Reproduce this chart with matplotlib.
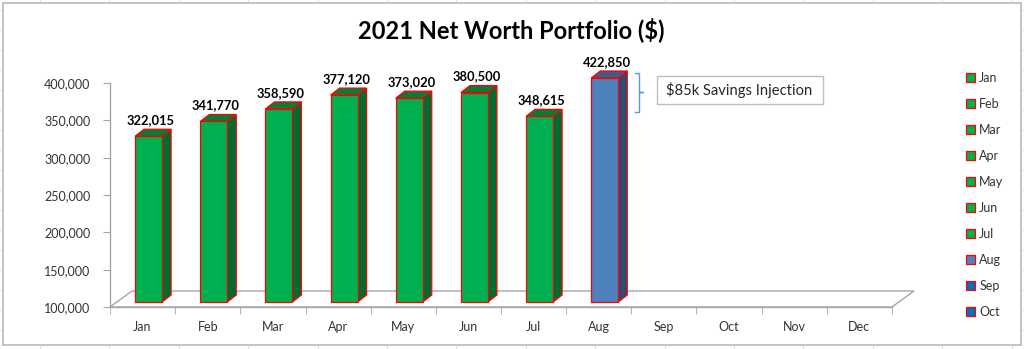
import matplotlib.pyplot as plt
import numpy as np
from matplotlib.patches import Patch, Polygon, Rectangle

MONTHS = ["Jan", "Feb", "Mar", "Apr", "May", "Jun", "Jul", "Aug", "Sep", "Oct", "Nov", "Dec"]
NET_WORTH = [322015, 341770, 358590, 377120, 373020, 380500, 348615, 422850]
LEGEND_MONTHS = MONTHS[:10]
Y_TICKS = [100000, 150000, 200000, 250000, 300000, 350000, 400000]
NOTE = "$85k Savings Injection"

GREEN = ("#00B050", "#0A7A38", "#006B30")   # front, top, side
BLUE_AUG = ("#4F81BD", "#3A5E8C", "#2E4C73")
BLUE = ("#0070C0", "#005A9A", "#004C82")
EDGE = "#FF0000"
AXIS = "#A6A6A6"
TEXT = "#333333"


def month_colors(i: int):
    if i < 7:
        return GREEN
    if i == 7:
        return BLUE_AUG
    return BLUE


W, H = 1024, 349
X0, X1, YB, YT = 110, 892, 307, 83          # plot box in pixels
YMIN, YMAX = 100000, 400000

plt.rcParams["font.family"] = ["Lato", "DejaVu Sans"]
fig = plt.figure(figsize=(W / 100, H / 100), dpi=100)

# sheet background + chart frame (pixel coordinates)
bg = fig.add_axes([0, 0, 1, 1])
bg.set_xlim(0, W)
bg.set_ylim(H, 0)
bg.axis("off")
for x in np.arange(40, W, 69.4):
    bg.axvline(x, color="#E4E4E4", linewidth=0.8, zorder=0)
for y in np.arange(10, H, 20):
    bg.axhline(y, color="#E4E4E4", linewidth=0.8, zorder=0)
bg.add_patch(Rectangle((3, 3), 1018, 342, facecolor="white", edgecolor="#BFBFBF", linewidth=1.3, zorder=1))

# annotation
bg.plot([635, 639, 639, 643, 639, 639, 635], [73, 73, 92, 92, 92, 112, 112],
        color="#5B9BD5", linewidth=1.0, zorder=2)
bg.add_patch(Rectangle((657, 76), 166, 28, facecolor="white", edgecolor="#BFBFBF", linewidth=1.0, zorder=2))
bg.text(739, 90.5, NOTE, ha="center", va="center", fontsize=10.6, color="#262626", zorder=3)

fig.text(511 / W, 1 - 30 / H, "2021 Net Worth Portfolio ($)", ha="center", va="center",
         fontsize=17, fontweight="bold", color="black")

ax = fig.add_axes([X0 / W, (H - YB) / H, (X1 - X0) / W, (YB - YT) / H])
ax.set_xlim(0, len(MONTHS))
ax.set_ylim(YMIN, YMAX)
ax.patch.set_alpha(0)
for s in ("top", "right"):
    ax.spines[s].set_visible(False)
for s in ("left", "bottom"):
    ax.spines[s].set_color(AXIS)
    ax.spines[s].set_linewidth(1.0)


def px_x(p):
    return p * len(MONTHS) / (X1 - X0)


def px_y(p):
    return p * (YMAX - YMIN) / (YB - YT)


# floor
fdx, fdy = px_x(22), px_y(16)
n = len(MONTHS)
floor = Polygon([(0, YMIN), (n, YMIN), (n + fdx, YMIN + fdy), (fdx, YMIN + fdy)], closed=True,
                facecolor="none", edgecolor=AXIS, linewidth=1.0, clip_on=False, zorder=1)
ax.add_patch(floor)

# bars
bw = px_x(27)
shift_x, shift_y = px_x(6), px_y(5)
ddx, ddy = px_x(9), px_y(7)
for i, v in enumerate(NET_WORTH):
    front, top, side = month_colors(i)
    left = i + 0.5 - bw / 2 + shift_x
    base = YMIN + shift_y
    h = min(v, YMAX) + shift_y
    kw = dict(edgecolor=EDGE, linewidth=0.9, clip_on=False, zorder=3, joinstyle="miter")
    ax.add_patch(Polygon([(left + bw, base), (left + bw + ddx, base + ddy), (left + bw + ddx, h + ddy),
                          (left + bw, h)], closed=True, facecolor=side, **kw))
    ax.add_patch(Polygon([(left, h), (left + bw, h), (left + bw + ddx, h + ddy), (left + ddx, h + ddy)],
                         closed=True, facecolor=top, **kw))
    ax.add_patch(Rectangle((left, base), bw, h - base, facecolor=front, **kw))
    ax.text(left + bw / 2 + px_x(2), h + ddy + px_y(3), f"{v:,}", ha="center", va="bottom",
            fontsize=9.3, fontweight="bold", color="black", zorder=4)

ax.set_yticks(Y_TICKS)
ax.set_yticklabels([f"{t:,}" for t in Y_TICKS])
ax.tick_params(axis="y", direction="out", length=5, color=AXIS, labelcolor=TEXT, labelsize=9, pad=9)
ax.set_xticks(np.arange(n + 1), minor=True)
ax.set_xticks(np.arange(n) + 0.5)
ax.set_xticklabels(MONTHS)
ax.tick_params(axis="x", which="minor", direction="out", length=5, color=AXIS)
ax.tick_params(axis="x", which="major", length=0, labelcolor=TEXT, labelsize=9, pad=10)

handles = [Patch(facecolor=month_colors(i)[0], edgecolor=EDGE, linewidth=0.9) for i in range(len(LEGEND_MONTHS))]
fig.legend(handles, LEGEND_MONTHS, loc="upper left", bbox_to_anchor=(966 / W, 1 - 72 / H),
           frameon=False, fontsize=9, handlelength=0.7, handleheight=0.7, handletextpad=0.35,
           labelspacing=1.12, borderpad=0, borderaxespad=0, labelcolor=TEXT)

fig.savefig("out.png", dpi=100, facecolor="white")
